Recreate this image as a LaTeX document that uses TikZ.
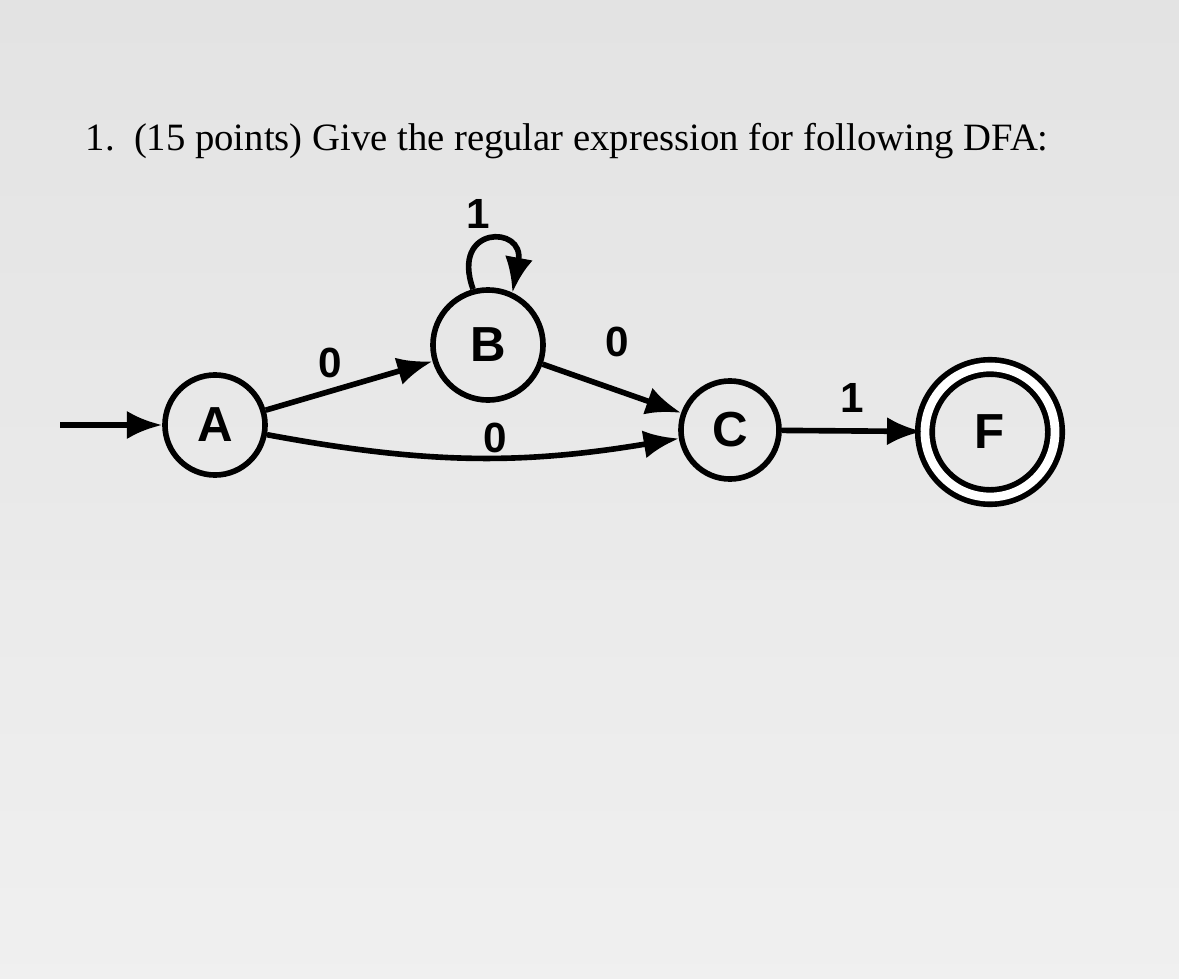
\documentclass[tikz,border=0pt]{standalone}
\usepackage{fontspec}
\setmainfont{Liberation Serif}
\newfontfamily\lab{Liberation Sans}
\usetikzlibrary{arrows.meta}
\begin{document}
\begin{tikzpicture}[x=0.01cm,y=-0.01cm,
  st/.style={circle,draw,line width=1.6pt,inner sep=0pt,font=\lab\bfseries\fontsize{14}{14}\selectfont},
  tr/.style={line width=1.6pt,-{Latex[length=10pt,width=8pt]}},
  lb/.style={font=\lab\bfseries\fontsize{12}{12}\selectfont}]
\shade[top color=gray!22,bottom color=gray!12] (0,0) rectangle (1179,979);
\useasboundingbox (0,0) rectangle (1179,979);
\node[anchor=base west,inner sep=0pt,font=\fontsize{11}{13}\selectfont] (title) at (85,150) {1.\ \ (15 points) Give the regular expression for following DFA:};
\node[st,minimum size=1cm] (A) at (215,425) {A};
\node[st,minimum size=1.1cm] (B) at (488,345) {B};
\node[st,minimum size=0.98cm] (C) at (730,430) {C};
\node[st,double,double distance=2.5pt,minimum size=1.3cm] (F) at (990,432) {F};
\coordinate (s) at (60,425);
\draw[tr] (s) -- (A);
\draw[tr] (A) -- node[lb,above left=-2pt] {0} (B);
\draw[tr] (B) -- node[lb,pos=0.3,above right=2pt] {0} (C);
\draw[tr] (A) to[bend right=10] (C);
\node[lb] (l0) at (495,438) {0};
\draw[tr] (C) -- node[lb,above=1pt] {1} (F);
\draw[tr] (B.105) .. controls (450,225) and (525,225) .. (B.65);
\node[lb] (l1) at (478,214) {1};
\end{tikzpicture}
\end{document}
